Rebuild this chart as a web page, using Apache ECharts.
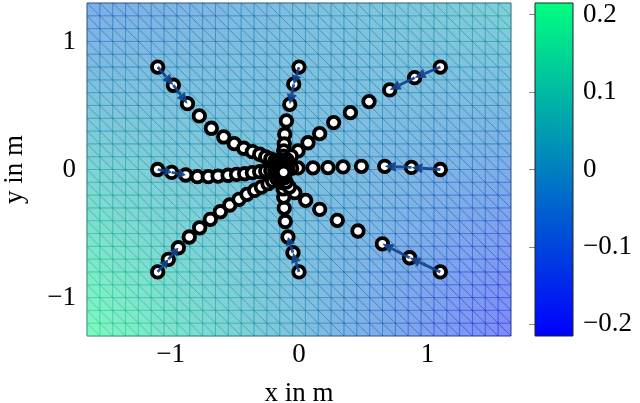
<!DOCTYPE html>
<html>
<head>
<meta charset="utf-8">
<script src="https://cdn.jsdelivr.net/npm/echarts@6/dist/echarts.min.js"></script>
<style>
html,body{margin:0;padding:0;background:#fff;}
#chart{width:640px;height:403px;}
</style>
</head>
<body>
<div id="chart"></div>
<script>
// ---------- data ----------
// axis tick labels
const xTicks = [-1, 0, 1];
const yTicks = [-1, 0, 1];
const colorTicks = [-0.2, -0.1, 0, 0.1, 0.2];

// scalar field (node values of the mesh, read at coarse nodes)
const fieldX = [-1.65, -0.55, 0.55, 1.65];
const fieldY = [1.3, 0, -1.3];
const fieldTop    = [-0.06, -0.02, 0.02, 0.06];
const fieldMiddle = [0.07, 0.025, -0.015, -0.06];
const fieldBottom = [0.195, 0.07, -0.055, -0.18];
const colorRange = [-0.215, 0.215];

// trajectories (x, y in m)
const rayUpperLeft = [[-1.1,0.8],[-0.978,0.658],[-0.868,0.514],[-0.776,0.418],[-0.682,0.322],[-0.586,0.254],[-0.504,0.202],[-0.43,0.166],[-0.363,0.139],[-0.306,0.119],[-0.259,0.098],[-0.22,0.082],[-0.189,0.066],[-0.166,0.055],[-0.147,0.043],[-0.135,0.033],[-0.128,0.025]];
const rayTop = [[0,0.8],[-0.041,0.666],[-0.072,0.509],[-0.098,0.379],[-0.111,0.275],[-0.115,0.199],[-0.119,0.145],[-0.121,0.105],[-0.122,0.074],[-0.122,0.051],[-0.121,0.033],[-0.12,0.02]];
const rayUpperRight = [[1.1,0.8],[0.9,0.717],[0.706,0.621],[0.545,0.53],[0.4,0.444],[0.27,0.366],[0.161,0.28],[0.07,0.209],[-0.008,0.145],[-0.06,0.105],[-0.092,0.074],[-0.108,0.051],[-0.116,0.033],[-0.12,0.02]];
const rayLeft = [[-1.1,0],[-0.991,-0.023],[-0.882,-0.043],[-0.791,-0.056],[-0.706,-0.056],[-0.63,-0.051],[-0.552,-0.045],[-0.487,-0.038],[-0.423,-0.033],[-0.363,-0.025],[-0.306,-0.017],[-0.259,-0.012],[-0.22,-0.008],[-0.189,-0.005],[-0.166,-0.003],[-0.148,-0.002],[-0.135,-0.001],[-0.126,0]];
const rayRight = [[1.1,0],[0.875,0.016],[0.667,0.025],[0.486,0.025],[0.343,0.02],[0.226,0.015],[0.109,0.013],[-0.008,0.012],[-0.057,0.009],[-0.088,0.006],[-0.107,0.003],[-0.119,0.001]];
const rayLowerLeft = [[-1.1,-0.8],[-1.017,-0.702],[-0.939,-0.611],[-0.854,-0.527],[-0.773,-0.455],[-0.69,-0.389],[-0.612,-0.33],[-0.539,-0.277],[-0.467,-0.233],[-0.405,-0.194],[-0.345,-0.163],[-0.293,-0.137],[-0.241,-0.111],[-0.205,-0.09],[-0.174,-0.07],[-0.152,-0.053],[-0.137,-0.038],[-0.128,-0.025],[-0.123,-0.014]];
const rayBottom = [[0,-0.8],[-0.047,-0.65],[-0.086,-0.527],[-0.107,-0.406],[-0.115,-0.301],[-0.119,-0.215],[-0.123,-0.152],[-0.125,-0.105],[-0.125,-0.07],[-0.124,-0.043],[-0.122,-0.025]];
const rayLowerRight = [[1.1,-0.8],[0.861,-0.689],[0.649,-0.58],[0.459,-0.48],[0.298,-0.397],[0.161,-0.311],[0.052,-0.241],[-0.033,-0.181],[-0.075,-0.137],[-0.1,-0.098],[-0.113,-0.066],[-0.118,-0.041],[-0.12,-0.022]];

// ---------- drawing ----------
const rays = [rayUpperLeft, rayTop, rayUpperRight, rayLeft, rayRight, rayLowerLeft, rayBottom, rayLowerRight];
const fieldRows = [fieldTop, fieldMiddle, fieldBottom];
const meshStep = 0.1;
const FONT = 'Liberation Serif';
const FS = 27;

function winter(v) {
  let t = (v - colorRange[0]) / (colorRange[1] - colorRange[0]);
  t = Math.max(0, Math.min(1, t));
  return [0, 255 * t, 255 - 127.5 * t];
}
function rgba(c, a, k) {
  k = k || 1;
  return 'rgba(' + Math.round(c[0]*k) + ',' + Math.round(c[1]*k) + ',' + Math.round(c[2]*k) + ',' + a + ')';
}
function fmt(v) { return v < 0 ? '\u2212' + Math.abs(v) : String(v); }

// mesh cells: one item per coarse cell of the field table
const meshCells = [];
for (let j = 0; j < fieldY.length - 1; j++)
  for (let i = 0; i < fieldX.length - 1; i++) meshCells.push([i, j]);

function renderMesh(params, api) {
  const i = api.value(0), j = api.value(1);
  const x0 = fieldX[i], x1 = fieldX[i + 1];
  const yT = fieldY[j], yB = fieldY[j + 1];
  const vTL = fieldRows[j][i], vTR = fieldRows[j][i + 1];
  const vBL = fieldRows[j + 1][i], vBR = fieldRows[j + 1][i + 1];
  const shade = (x, y) => {
    const u = (x - x0) / (x1 - x0), w = (y - yB) / (yT - yB);
    return (1 - u) * (1 - w) * vBL + u * (1 - w) * vBR + (1 - u) * w * vTL + u * w * vTR;
  };
  const nx = Math.round((x1 - x0) / meshStep), ny = Math.round((yT - yB) / meshStep);
  const children = [];
  for (let a = 0; a < nx; a++) {
    for (let b = 0; b < ny; b++) {
      const xa = x0 + a * (x1 - x0) / nx, xb = x0 + (a + 1) * (x1 - x0) / nx;
      const ya = yB + b * (yT - yB) / ny, yb = yB + (b + 1) * (yT - yB) / ny;
      const tris = [
        [[xa, yb], [xb, yb], [xb, ya]],
        [[xa, yb], [xb, ya], [xa, ya]]
      ];
      for (const tri of tris) {
        const cx = (tri[0][0] + tri[1][0] + tri[2][0]) / 3;
        const cy = (tri[0][1] + tri[1][1] + tri[2][1]) / 3;
        const c = winter(shade(cx, cy));
        children.push({
          type: 'polygon',
          shape: { points: tri.map(p => api.coord(p)) },
          style: { fill: rgba(c, 0.5), stroke: rgba(c, 0.55, 0.85), lineWidth: 0.55 },
          silent: true
        });
      }
    }
  }
  return { type: 'group', children: children };
}

// arrows on the first two steps of every trajectory
const arrowItems = [];
rays.forEach((r, k) => { arrowItems.push([k, 0]); arrowItems.push([k, 1]); });
function renderArrow(params, api) {
  const r = rays[api.value(0)], s = api.value(1);
  const p0 = api.coord(r[s]), p1 = api.coord(r[s + 1]);
  const dx = p1[0] - p0[0], dy = p1[1] - p0[1];
  const L = Math.sqrt(dx * dx + dy * dy);
  const ux = dx / L, uy = dy / L;
  const hl = Math.min(11, L * 0.5), hw = 5;
  const bx = p1[0] - ux * hl, by = p1[1] - uy * hl;
  const col = 'rgba(18,66,140,0.92)';
  return {
    type: 'group',
    children: [
      { type: 'line', shape: { x1: p0[0], y1: p0[1], x2: bx, y2: by }, style: { stroke: col, lineWidth: 2.8 } },
      { type: 'polygon', shape: { points: [[p1[0], p1[1]], [bx - uy * hw, by + ux * hw], [bx + uy * hw, by - ux * hw]] }, style: { fill: col } }
    ]
  };
}

function renderColorbar(params, api) {
  const a = api.coord([0, colorRange[1]]), b = api.coord([1, colorRange[0]]);
  const cTop = winter(colorRange[1]), cBot = winter(colorRange[0]);
  return {
    type: 'rect',
    shape: { x: a[0], y: a[1], width: b[0] - a[0], height: b[1] - a[1] },
    style: {
      fill: new echarts.graphic.LinearGradient(0, 0, 0, 1, [
        { offset: 0, color: rgba(cTop, 1) },
        { offset: 1, color: rgba(cBot, 1) }
      ]),
      stroke: '#222', lineWidth: 1
    }
  };
}

const labelStyle = { fontFamily: FONT, fontSize: FS, color: '#000' };

const series = [
  { type: 'custom', xAxisIndex: 0, yAxisIndex: 0, data: meshCells, renderItem: renderMesh, silent: true, z: 1, animation: false }
];
rays.forEach((r, k) => {
  series.push({
    type: 'scatter', xAxisIndex: 0, yAxisIndex: 0, data: r, symbol: 'circle', symbolSize: 11.5,
    itemStyle: { color: '#fff', borderColor: '#000', borderWidth: 3.8, opacity: 1 },
    z: 3, silent: true, animation: false
  });
});
series.push({ type: 'custom', xAxisIndex: 0, yAxisIndex: 0, data: arrowItems, renderItem: renderArrow, z: 5, silent: true, animation: false });
series.push({ type: 'custom', xAxisIndex: 1, yAxisIndex: 1, data: [[0, 0]], renderItem: renderColorbar, z: 1, silent: true, animation: false });

const chart = echarts.init(document.getElementById('chart'), null, { renderer: 'canvas' });
chart.setOption({
  animation: false,
  backgroundColor: '#fff',
  grid: [
    { left: 87, top: 3, width: 424, height: 333, show: true, borderColor: 'rgba(70,70,70,0.8)', borderWidth: 1, backgroundColor: 'transparent', outerBoundsMode: 'none', containLabel: false },
    { left: 535, top: 3, width: 38, height: 333, outerBoundsMode: 'none', containLabel: false }
  ],
  xAxis: [
    { gridIndex: 0, type: 'value', min: -1.65, max: 1.65,
      axisLine: { show: false }, axisTick: { show: false }, splitLine: { show: false },
      axisLabel: Object.assign({ customValues: xTicks, formatter: fmt, margin: 5 }, labelStyle),
      name: 'x in m', nameLocation: 'middle', nameGap: 44, nameTextStyle: labelStyle },
    { gridIndex: 1, type: 'value', min: 0, max: 1, show: false }
  ],
  yAxis: [
    { gridIndex: 0, type: 'value', min: -1.3, max: 1.3,
      axisLine: { show: false }, axisTick: { show: false }, splitLine: { show: false },
      axisLabel: Object.assign({ customValues: yTicks, formatter: fmt, margin: 11 }, labelStyle),
      name: 'y in m', nameLocation: 'middle', nameGap: 59, nameRotate: 90, nameTextStyle: labelStyle },
    { gridIndex: 1, type: 'value', position: 'right', min: colorRange[0], max: colorRange[1],
      axisLine: { show: false }, splitLine: { show: false },
      axisTick: { show: true, inside: true, length: 6, customValues: colorTicks, lineStyle: { color: '#888', width: 1 } },
      axisLabel: Object.assign({ customValues: colorTicks, formatter: fmt, margin: 10 }, labelStyle) },
    { gridIndex: 1, type: 'value', position: 'left', min: colorRange[0], max: colorRange[1],
      axisLine: { show: false }, splitLine: { show: false }, axisLabel: { show: false },
      axisTick: { show: true, inside: true, length: 6, customValues: colorTicks, lineStyle: { color: '#888', width: 1 } } }
  ],
  series: series
});
</script>
</body>
</html>
